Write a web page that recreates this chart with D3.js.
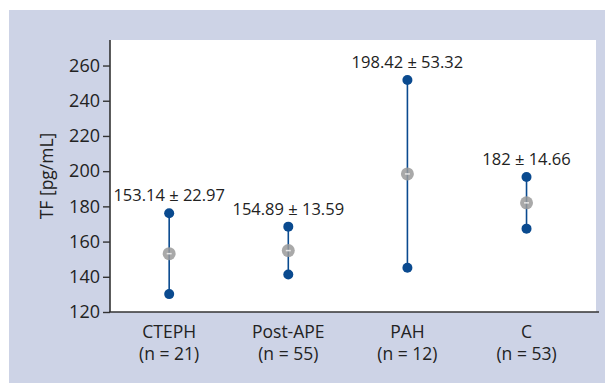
<!DOCTYPE html>
<html lang="en">
<head>
  <meta charset="UTF-8" />
  <title>TF by group</title>
  <script src="https://cdn.jsdelivr.net/npm/d3@7/dist/d3.min.js"></script>
  <style>
    html, body { margin: 0; padding: 0; background: #fff; }
    svg { display: block; font-family: "Open Sans", "Noto Sans", Arial, sans-serif; }
  </style>
</head>
<body>
  <div id="chart"></div>
  <script>
    // data
    const groups = ["CTEPH", "Post-APE", "PAH", "C"];
    const counts = [21, 55, 12, 53];
    const means = [153.14, 154.89, 198.42, 182];
    const sds = [22.97, 13.59, 53.32, 14.66];
    const meanLabels = ["153.14 \u00b1 22.97", "154.89 \u00b1 13.59", "198.42 \u00b1 53.32", "182 \u00b1 14.66"];
    const yTicks = [120, 140, 160, 180, 200, 220, 240, 260];

    const width = 605, height = 383;
    const bg = "#cdd3e6";
    const dotColor = "#0a4a8f";
    const axisColor = "#333";

    const plot = { left: 110, top: 40, right: 596, bottom: 312 };

    const svg = d3.select("#chart").append("svg")
      .attr("width", width)
      .attr("height", height);

    // lavender panel
    svg.append("rect")
      .attr("x", 9).attr("y", 10)
      .attr("width", width - 9).attr("height", height - 10)
      .attr("fill", bg);

    // white plot area
    svg.append("rect")
      .attr("x", plot.left).attr("y", plot.top)
      .attr("width", plot.right - plot.left).attr("height", plot.bottom - plot.top)
      .attr("fill", "#fff");

    const x = d3.scalePoint()
      .domain(groups)
      .range([plot.left, plot.right])
      .padding(0.54)
      .align(0.46);

    const y = d3.scaleLinear()
      .domain([120, 274.5])
      .range([plot.bottom, plot.top]);

    // y axis
    const yAxis = svg.append("g")
      .attr("transform", `translate(${plot.left},0)`)
      .call(d3.axisLeft(y).tickValues(yTicks).tickSize(7).tickPadding(3).tickFormat(d3.format("d")));
    yAxis.select(".domain").attr("d", `M0,${plot.top}V${plot.bottom}`)
      .attr("stroke", axisColor).attr("stroke-width", 1.6);
    yAxis.selectAll(".tick line").attr("stroke", axisColor).attr("stroke-width", 1.4);
    yAxis.selectAll(".tick text")
      .attr("fill", "#222").attr("font-size", 18)
      .attr("font-family", "\"Open Sans\", sans-serif");

    // x axis baseline
    svg.append("line")
      .attr("x1", plot.left - 1).attr("x2", plot.right + 3)
      .attr("y1", plot.bottom).attr("y2", plot.bottom)
      .attr("stroke", axisColor).attr("stroke-width", 1.6);

    // category labels
    const catLabels = svg.append("g")
      .selectAll("text")
      .data(groups)
      .enter()
      .append("text")
      .attr("x", d => x(d))
      .attr("text-anchor", "middle")
      .attr("fill", "#222")
      .attr("font-size", 17.5);
    catLabels.append("tspan").attr("x", d => x(d)).attr("y", 338).text(d => d);
    catLabels.append("tspan").attr("x", d => x(d)).attr("y", 360).text((d, i) => `(n = ${counts[i]})`);

    // axis title
    svg.append("text")
      .attr("transform", "translate(53,176) rotate(-90)")
      .attr("text-anchor", "middle")
      .attr("fill", "#222")
      .attr("font-size", 17.5)
      .text("TF [pg/mL]");

    const g = svg.append("g");
    groups.forEach((grp, i) => {
      const cx = x(grp);
      const hi = means[i] + sds[i];
      const lo = means[i] - sds[i];
      g.append("line")
        .attr("x1", cx).attr("x2", cx)
        .attr("y1", y(hi)).attr("y2", y(lo))
        .attr("stroke", dotColor).attr("stroke-width", 1.6);
      g.append("circle")
        .attr("cx", cx).attr("cy", y(means[i])).attr("r", 6.5)
        .attr("fill", "#9a9a9a").attr("fill-opacity", 0.85);
      g.append("line")
        .attr("x1", cx - 2.5).attr("x2", cx + 2.5)
        .attr("y1", y(means[i])).attr("y2", y(means[i]))
        .attr("stroke", "#e6e6e6").attr("stroke-width", 1.5);
      [hi, lo].forEach(v => {
        g.append("circle")
          .attr("cx", cx).attr("cy", y(v)).attr("r", 5)
          .attr("fill", dotColor);
      });
      g.append("text")
        .attr("x", cx).attr("y", y(hi) - 12)
        .attr("text-anchor", "middle")
        .attr("fill", "#222")
        .attr("font-size", 16.5)
        .text(meanLabels[i]);
    });
  </script>
</body>
</html>
